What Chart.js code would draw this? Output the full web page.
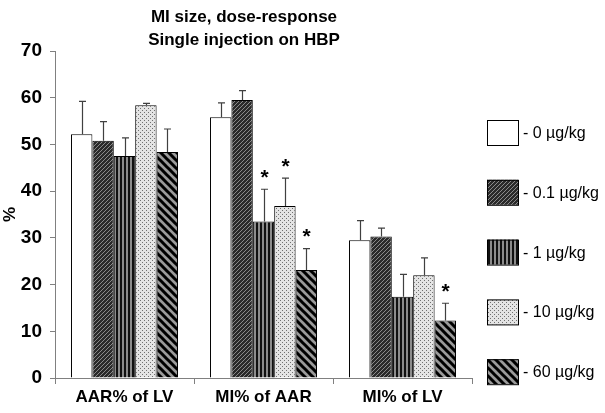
<!DOCTYPE html>
<html>
<head>
<meta charset="utf-8">
<script src="https://cdn.jsdelivr.net/npm/chart.js@4/dist/chart.umd.min.js"></script>
<style>
  html,body{margin:0;padding:0;background:#fff;}
  #wrap{width:605px;height:413px;position:relative;}
</style>
</head>
<body>
<div id="wrap"><canvas id="miChart" width="605" height="413"></canvas></div>
<script>
// chart data
const categories = ['AAR% of LV', 'MI% of AAR', 'MI% of LV'];
const doseLabels = ['- 0 µg/kg', '- 0.1 µg/kg', '- 1 µg/kg', '- 10 µg/kg', '- 60 µg/kg'];
const titleLines = ['MI size, dose-response', 'Single injection on HBP'];
const yTicks = [0, 10, 20, 30, 40, 50, 60, 70];

const dose0 = [52.2, 55.8, 29.5];
const dose01 = [50.8, 59.5, 30.3];
const dose1 = [47.5, 33.5, 17.4];
const dose10 = [58.4, 36.8, 22.0];
const dose60 = [48.4, 23.1, 12.3];

// upper error (SEM)
const dose0Err = [7.0, 3.1, 4.2];
const dose01Err = [4.1, 2.0, 1.8];
const dose1Err = [3.9, 6.9, 4.8];
const dose10Err = [0.4, 6.0, 3.7];
const dose60Err = [4.9, 4.6, 3.7];

// significance markers
const dose0Sig = [false, false, false];
const dose01Sig = [false, false, false];
const dose1Sig = [false, true, false];
const dose10Sig = [false, true, false];
const dose60Sig = [false, true, true];

const font = "'Liberation Sans', Arial, sans-serif";

// fill patterns
const makePattern = (type) => {
    const c = document.createElement('canvas');
    const g = c.getContext('2d');
    if (type == 'white') {
        return '#ffffff';
    }
    if (type == 'hatch') {
        c.width = 4; c.height = 4;
        g.fillStyle = '#2a2a2a';
        g.fillRect(0, 0, 4, 4);
        g.strokeStyle = '#8a8a8a';
        g.lineWidth = 1;
        g.beginPath();
        g.moveTo(-1, 5); g.lineTo(5, -1);
        g.moveTo(-1, 1); g.lineTo(1, -1);
        g.moveTo(3, 5); g.lineTo(5, 3);
        g.stroke();
    }
    if (type == 'vert') {
        c.width = 4; c.height = 4;
        g.fillStyle = '#111111';
        g.fillRect(0, 0, 4, 4);
        g.fillStyle = '#8c8c8c';
        g.fillRect(2, 0, 2, 4);
    }
    if (type == 'dots') {
        c.width = 4; c.height = 4;
        g.fillStyle = '#e4e4e4';
        g.fillRect(0, 0, 4, 4);
        g.fillStyle = '#707070';
        g.fillRect(0, 0, 1, 1);
        g.fillRect(2, 2, 1, 1);
    }
    if (type == 'wide') {
        c.width = 8; c.height = 8;
        g.fillStyle = '#9a9a9a';
        g.fillRect(0, 0, 8, 8);
        g.strokeStyle = '#000000';
        g.lineWidth = 3;
        g.beginPath();
        g.moveTo(-2, -2); g.lineTo(10, 10);
        g.moveTo(-10, -2); g.lineTo(2, 10);
        g.moveTo(6, -2); g.lineTo(18, 10);
        g.stroke();
    }
    return g.createPattern(c, 'repeat');
};

const fills = [makePattern('white'), makePattern('hatch'), makePattern('vert'), makePattern('dots'), makePattern('wide')];
const seriesValues = [dose0, dose01, dose1, dose10, dose60];
const seriesErr = [dose0Err, dose01Err, dose1Err, dose10Err, dose60Err];
const seriesSig = [dose0Sig, dose01Sig, dose1Sig, dose10Sig, dose60Sig];

const datasets = seriesValues.map((vals, i) => ({
    label: doseLabels[i],
    data: vals,
    err: seriesErr[i],
    sig: seriesSig[i],
    backgroundColor: fills[i],
    borderColor: '#000000',
    borderWidth: 1,
    categoryPercentage: 0.77,
    barPercentage: 1
}));

// error bars and asterisks
const errorBarPlugin = {
    id: 'errorBars',
    afterDatasetsDraw(chart) {
        const ctx = chart.ctx;
        const yScale = chart.scales.y;
        ctx.save();
        chart.data.datasets.forEach((ds, i) => {
            const meta = chart.getDatasetMeta(i);
            meta.data.forEach((bar, j) => {
                const top = yScale.getPixelForValue(ds.data[j] + ds.err[j]);
                const x = Math.round(bar.x) + 0.5;
                ctx.strokeStyle = '#404040';
                ctx.lineWidth = 1.2;
                ctx.beginPath();
                ctx.moveTo(x, bar.y);
                ctx.lineTo(x, top);
                ctx.moveTo(x - 3.5, top);
                ctx.lineTo(x + 3.5, top);
                ctx.stroke();
                if (ds.sig[j]) {
                    ctx.fillStyle = '#000';
                    ctx.font = 'bold 21px ' + font;
                    ctx.textAlign = 'center';
                    ctx.textBaseline = 'middle';
                    ctx.fillText('*', x, top - 11);
                }
            });
        });
        ctx.restore();
    }
};

// two-line title and legend on the right side
const sideLegendPlugin = {
    id: 'sideLegend',
    afterDraw(chart) {
        const ctx = chart.ctx;
        ctx.save();
        ctx.fillStyle = '#000';
        ctx.font = 'bold 17px ' + font;
        ctx.textAlign = 'center';
        ctx.textBaseline = 'middle';
        titleLines.forEach((t, k) => ctx.fillText(t, 244, 17 + k * 23));

        chart.data.datasets.forEach((ds, i) => {
            const bx = 487, by = 120 + i * 59.8, bw = 31, bh = 25;
            ctx.fillStyle = ds.backgroundColor;
            ctx.fillRect(bx, by, bw, bh);
            ctx.strokeStyle = '#000';
            ctx.lineWidth = 1;
            ctx.strokeRect(bx + 0.5, by + 0.5, bw, bh);
            ctx.fillStyle = '#000';
            ctx.font = '16px ' + font;
            ctx.textAlign = 'left';
            ctx.textBaseline = 'middle';
            ctx.fillText(ds.label, bx + bw + 5, by + bh / 2 + 1);
        });
        ctx.restore();
    }
};

new Chart(document.getElementById('miChart').getContext('2d'), {
    type: 'bar',
    data: {
        labels: categories,
        datasets: datasets
    },
    plugins: [errorBarPlugin, sideLegendPlugin],
    options: {
        responsive: false,
        animation: false,
        layout: {padding: {left: 0, right: 133, top: 51, bottom: 0}},
        plugins: {
            legend: {display: false},
            tooltip: {enabled: false},
            title: {display: false}
        },
        scales: {
            x: {
                grid: {display: true, drawOnChartArea: false, drawTicks: true, tickLength: 6, color: '#808080', offset: true},
                border: {display: true, color: '#808080', width: 1},
                ticks: {color: '#000', font: {family: font, size: 17, weight: 'bold'}, padding: 3, maxRotation: 0},
                afterFit: (scale) => { scale.height = 35; }
            },
            y: {
                min: 0,
                max: 70,
                afterBuildTicks: (scale) => { scale.ticks = yTicks.map(v => ({value: v})); },
                grid: {display: true, drawOnChartArea: false, drawTicks: true, tickLength: 5, color: '#808080'},
                border: {display: true, color: '#808080', width: 1},
                ticks: {color: '#000', font: {family: font, size: 19, weight: 'bold'}, padding: 8},
                title: {display: true, text: '%', color: '#000', font: {family: font, size: 17, weight: 'bold'}, padding: 0},
                afterFit: (scale) => { scale.width = 55; }
            }
        }
    }
});
</script>
</body>
</html>
